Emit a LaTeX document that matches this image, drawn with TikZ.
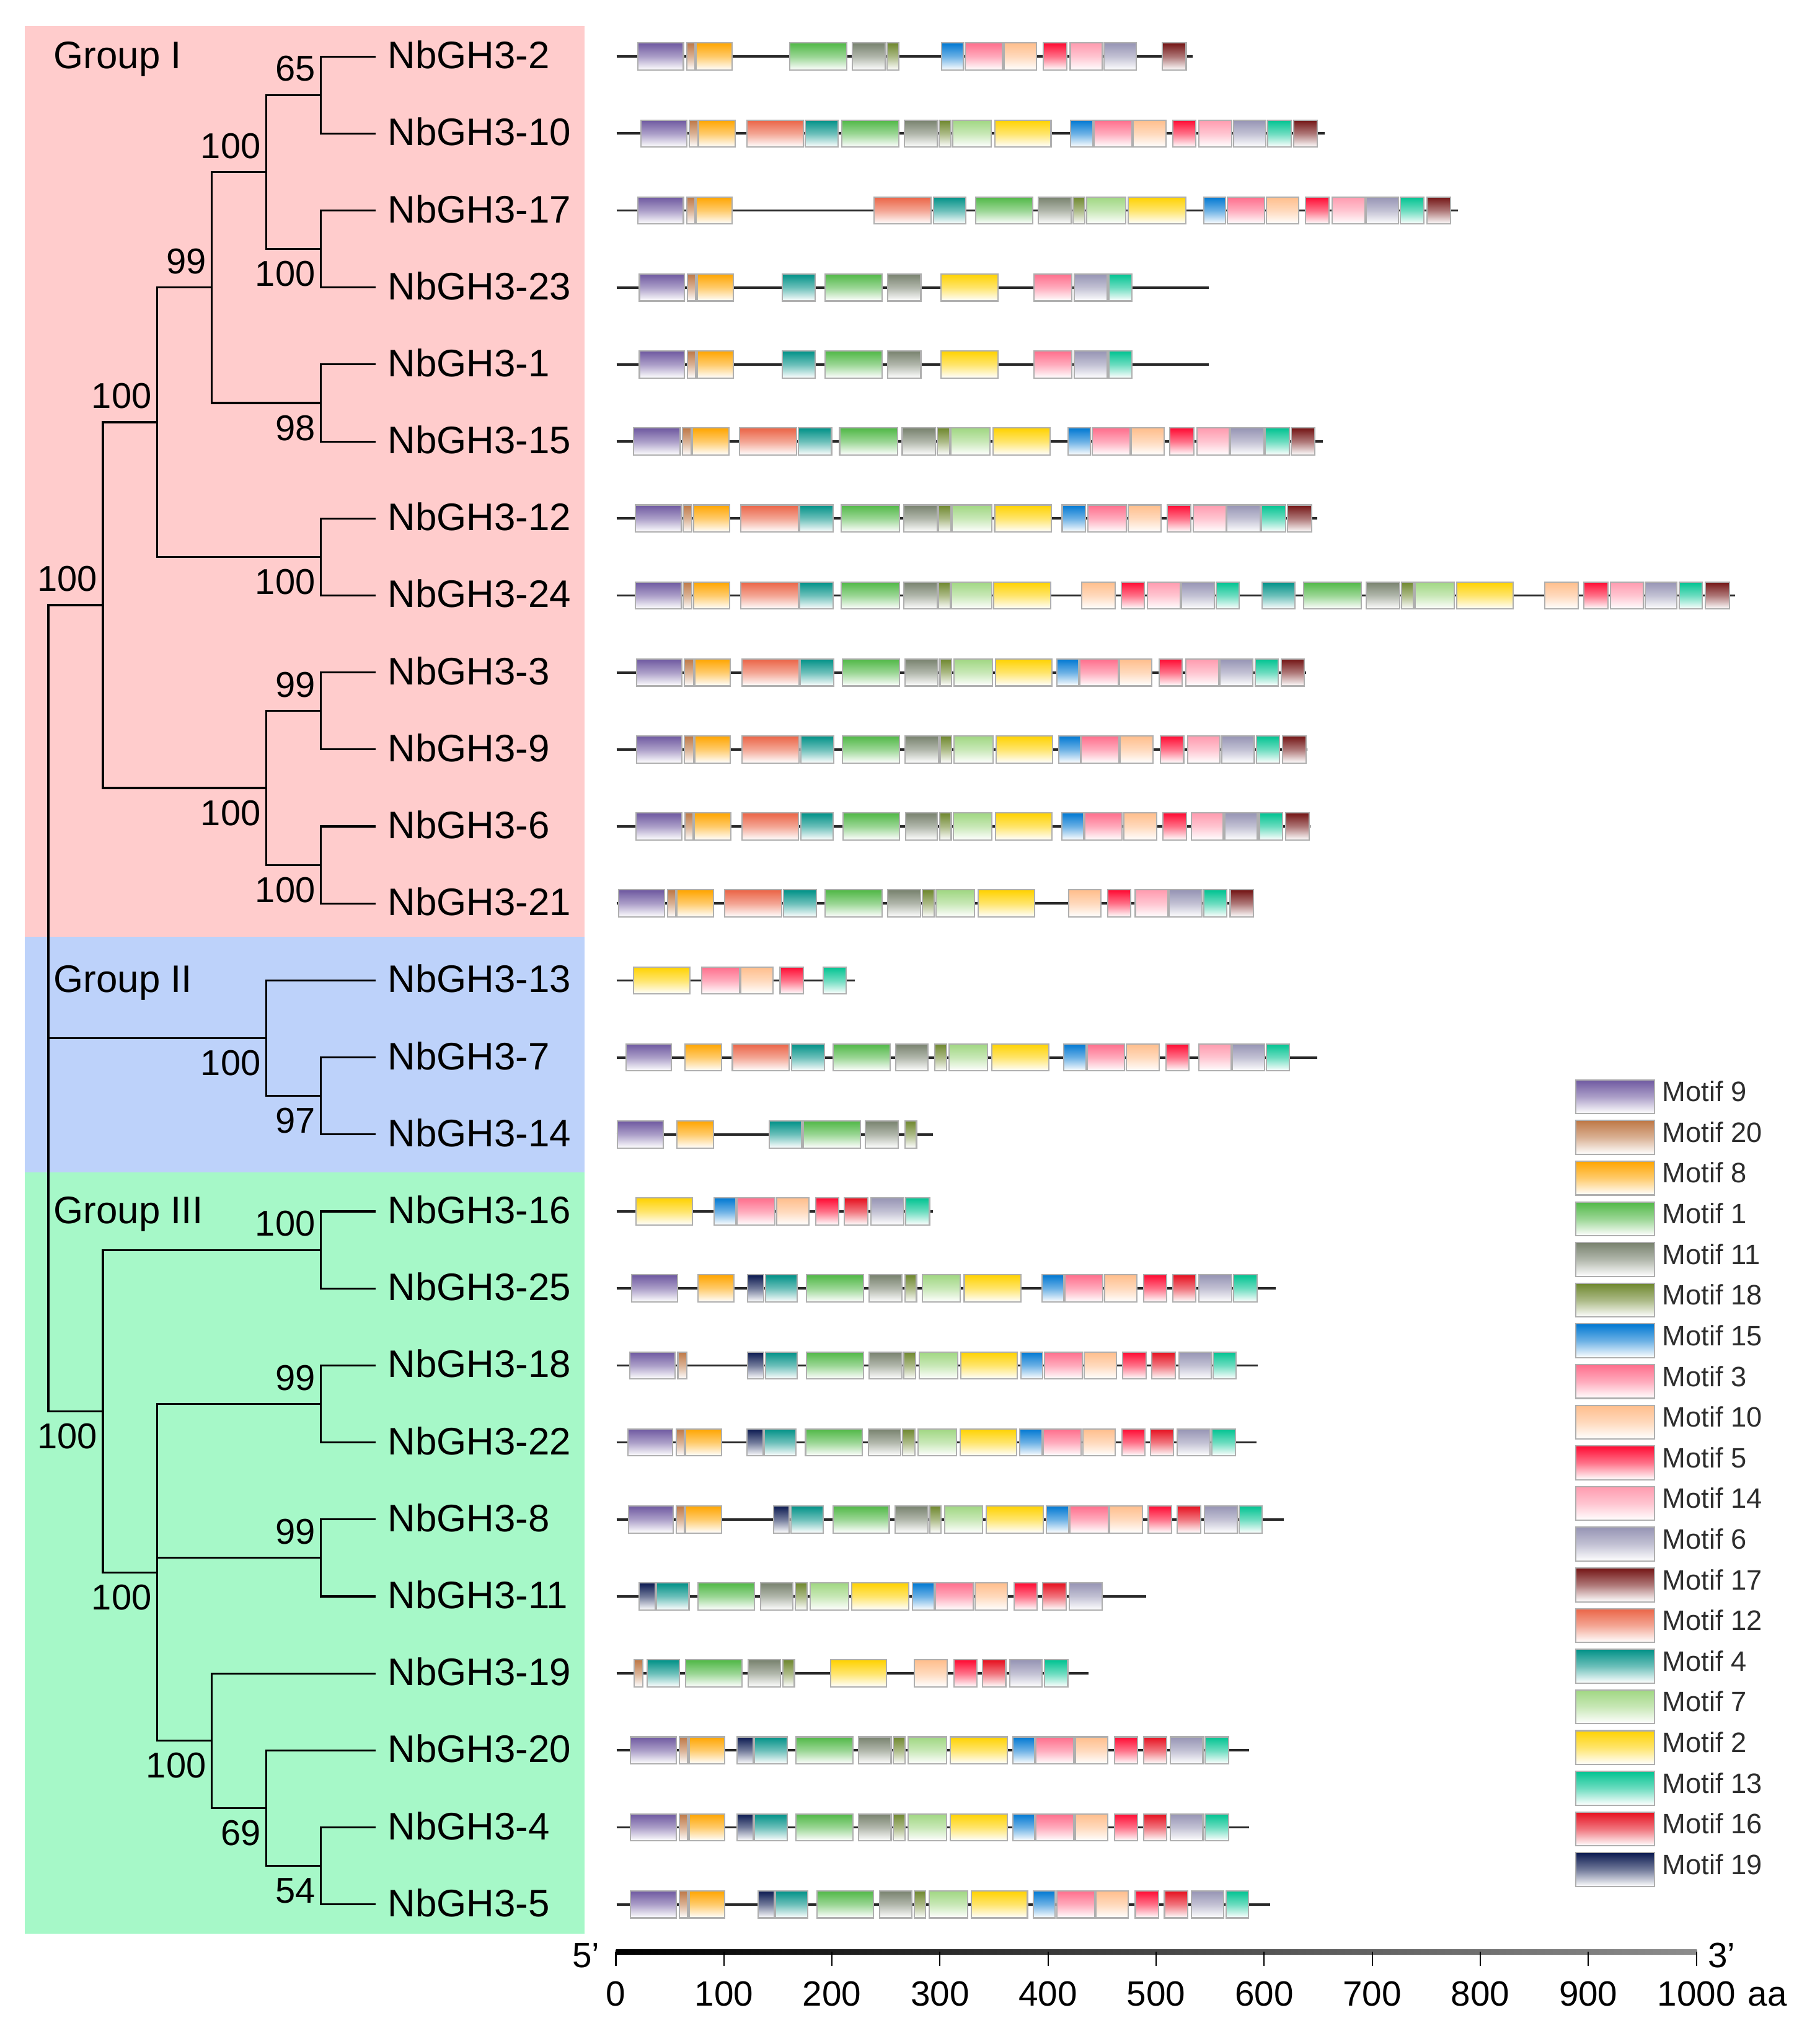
\documentclass[tikz,border=0pt]{standalone}
\usepackage{fontspec}
\setmainfont{Liberation Sans}
\usetikzlibrary{calc}
\definecolor{bgpink}{RGB}{255,204,204}
\definecolor{bgblue}{RGB}{189,210,250}
\definecolor{bggreen}{RGB}{166,248,200}
\definecolor{c9}{RGB}{110,88,160}
\definecolor{c20}{RGB}{190,120,70}
\definecolor{c8}{RGB}{255,165,0}
\definecolor{c1}{RGB}{80,184,70}
\definecolor{c11}{RGB}{120,130,110}
\definecolor{c18}{RGB}{110,135,45}
\definecolor{c15}{RGB}{0,120,210}
\definecolor{c3}{RGB}{255,110,140}
\definecolor{c10}{RGB}{255,190,140}
\definecolor{c5}{RGB}{255,10,50}
\definecolor{c14}{RGB}{255,155,175}
\definecolor{c6}{RGB}{150,148,180}
\definecolor{c17}{RGB}{115,20,20}
\definecolor{c12}{RGB}{235,100,70}
\definecolor{c4}{RGB}{0,145,135}
\definecolor{c7}{RGB}{160,215,130}
\definecolor{c2}{RGB}{255,210,0}
\definecolor{c13}{RGB}{0,195,145}
\definecolor{c16}{RGB}{230,15,30}
\definecolor{c19}{RGB}{10,25,80}
\definecolor{boxgray}{RGB}{175,175,175}
\definecolor{linegray}{RGB}{40,40,40}
\definecolor{legtextc}{RGB}{45,45,45}
\tikzset{
 mot/.style={draw=boxgray, line width=0.5pt, top color=#1, bottom color=white, middle color=#1!58!white},
 gline/.style={draw=linegray, line width=0.9pt},
 branch/.style={draw=black, line width=0.75pt},
 leaf/.style={inner sep=0pt, anchor=base west, font=\fontsize{14.75pt}{17pt}\selectfont},
 bsa/.style={inner sep=0pt, anchor=south east, font=\fontsize{13.8pt}{16pt}\selectfont},
 bsb/.style={inner sep=0pt, anchor=north east, font=\fontsize{13.8pt}{16pt}\selectfont},
 legtext/.style={inner sep=0pt, anchor=base west, text=legtextc, font=\fontsize{10.8pt}{12pt}\selectfont},
 axnum/.style={inner sep=0pt, anchor=base, font=\fontsize{13.5pt}{16pt}\selectfont},
}
\newcommand\generow[3]{%
 \pgfmathsetmacro\ry{43.5+59.25*#1}%
 \draw[gline] (474.5,\ry) -- (#2,\ry);%
 \foreach \a/\b/\m in {#3} {\path[mot=c\m] (\a,\ry-10.4) rectangle (\b,\ry+10.4);}%
}
\begin{document}
\begin{tikzpicture}[x=0.5pt,y=-0.5pt]
\useasboundingbox (0,0) rectangle (1400.3,1566.8);
\fill[white] (0,0) rectangle (1400.3,1566.8);
% group backgrounds
\fill[bgpink] (18.9,20) rectangle (450,721);
\fill[bgblue] (18.9,721) rectangle (450,902);
\fill[bggreen] (18.9,902) rectangle (450,1488);
% leaves
\foreach \n [count=\i from 0] in {2,10,17,23,1,15,12,24,3,9,6,21,13,7,14,16,25,18,22,8,11,19,20,4,5} {
  \pgfmathsetmacro\yy{43.5+59.25*\i}
  \coordinate (l\i) at (289,\yy);
  \node[leaf] (t\i) at (298,\yy+9.3) {NbGH3-\n};
}
% internal nodes
\coordinate (A) at (247,73.125);
\coordinate (B) at (247,191.625);
\coordinate (C) at (205,132.375);
\coordinate (D) at (247,310.125);
\coordinate (E) at (163,221.25);
\coordinate (F) at (247,428.625);
\coordinate (G) at (121,324.94);
\coordinate (H) at (247,547.125);
\coordinate (I) at (247,665.625);
\coordinate (J) at (205,606.375);
\coordinate (K) at (79.2,465.66);
\coordinate (L) at (247,843.375);
\coordinate (M) at (205,798.94);
\coordinate (N) at (247,961.875);
\coordinate (O) at (247,1080.375);
\coordinate (P) at (247,1198.875);
\coordinate (Q) at (247,1435.875);
\coordinate (T) at (205,1391.44);
\coordinate (S) at (163,1339.59);
\coordinate (R) at (121,1209.98);
\coordinate (U) at (79.2,1085.93);
\coordinate (Root) at (37.2,775.8);
\draw[branch] (A) |- (l0) (A) |- (l1) (B) |- (l2) (B) |- (l3)
  (C) |- (A) (C) |- (B) (D) |- (l4) (D) |- (l5) (E) |- (C) (E) |- (D)
  (F) |- (l6) (F) |- (l7) (G) |- (E) (G) |- (F)
  (H) |- (l8) (H) |- (l9) (I) |- (l10) (I) |- (l11) (J) |- (H) (J) |- (I)
  (K) |- (G) (K) |- (J)
  (L) |- (l13) (L) |- (l14) (M) |- (l12) (M) |- (L)
  (N) |- (l15) (N) |- (l16) (O) |- (l17) (O) |- (l18) (P) |- (l19) (P) |- (l20)
  (Q) |- (l23) (Q) |- (l24) (T) |- (l22) (T) |- (Q) (S) |- (l21) (S) |- (T)
  (R) |- (O) (R) |- (P) (R) |- (S) (U) |- (N) (U) |- (R)
  (Root) |- (K) (Root) |- (M) (Root) |- (U);
% bootstrap values
\node[bsa] (bA) at ($(A)+(-4,-10)$) {65};
\node[bsb] (bB) at ($(B)+(-4,9)$) {100};
\node[bsa] (bC) at ($(C)+(-4,-10)$) {100};
\node[bsb] (bD) at ($(D)+(-4,9)$) {98};
\node[bsa] (bE) at ($(E)+(-4,-10)$) {99};
\node[bsb] (bF) at ($(F)+(-4,9)$) {100};
\node[bsa] (bG) at ($(G)+(-4,-10)$) {100};
\node[bsa] (bH) at ($(H)+(-4,-10)$) {99};
\node[bsb] (bI) at ($(I)+(-4,9)$) {100};
\node[bsb] (bJ) at ($(J)+(-4,9)$) {100};
\node[bsa] (bK) at ($(K)+(-4,-10)$) {100};
\node[bsb] (bL) at ($(L)+(-4,9)$) {97};
\node[bsb] (bM) at ($(M)+(-4,9)$) {100};
\node[bsa] (bN) at ($(N)+(-4,-10)$) {100};
\node[bsa] (bO) at ($(O)+(-4,-10)$) {99};
\node[bsa] (bP) at ($(P)+(-4,-10)$) {99};
\node[bsb] (bQ) at ($(Q)+(-4,9)$) {54};
\node[bsb] (bT) at ($(T)+(-4,9)$) {69};
\node[bsb] (bS) at ($(S)+(-4,9)$) {100};
\node[bsb] (bR) at ($(R)+(-4,9)$) {100};
\node[bsb] (bU) at ($(U)+(-4,9)$) {100};
% group labels
\node[leaf] (g1) at (41,52.8) {Group I};
\node[leaf] (g2) at (41,763.8) {Group II};
\node[leaf] (g3) at (41,941.5) {Group III};
% motif rows
\generow{0}{918}{490.9/526/9, 528.5/534.8/20, 535.7/563.6/8, 608/651.6/1, 655.8/681.2/11, 682.9/691.7/18, 724.7/741.6/15, 742.9/771.7/3, 773/797.9/10, 803/821.2/5, 823.7/848.2/14, 849.5/874.4/6, 894.7/912.9/17}
\generow{1}{1019.5}{493.4/528.5/9, 530.6/537/20, 537.8/565.7/8, 575/618.2/12, 619.8/645.2/4, 647.8/691.7/1, 696/721.3/11, 722.6/731.9/18, 733.2/762.8/7, 765.7/808.9/2, 824.1/841/15, 841.9/871/3, 872.3/897.3/10, 902.8/920.5/5, 922.6/948/14, 949.3/974.2/6, 975.5/993.7/13, 995.8/1014/17}
\generow{2}{1122}{490.9/526/9, 528.5/534.8/20, 535.7/563.6/8, 672.7/716.7/12, 718.4/743.3/4, 751/795/1, 799.2/824.5/11, 825.8/835.1/18, 836.4/866.4/7, 868.5/912.5/2, 926.5/943.4/15, 944.6/973.4/3, 974.7/999.6/10, 1004.7/1022.9/5, 1025.4/1050.4/14, 1051.6/1076.2/6, 1077.9/1096/13, 1098.1/1116.3/17}
\generow{3}{930.3}{492.1/526.8/9, 529.3/535.3/20, 536.5/564.4/8, 602/627.5/4, 635/679/1, 683.3/708.7/11, 724.3/768.3/2, 795.8/825/3, 826.6/852/6, 853.3/871/13}
\generow{4}{930.3}{492.1/526.8/9, 529.3/535.3/20, 536.5/564.4/8, 602/627.5/4, 635/679/1, 683.3/708.7/11, 724.3/768.3/2, 795.8/825/3, 826.6/852/6, 853.3/871/13}
\generow{5}{1018}{487.8/523.6/9, 525.3/532/20, 533.1/561.1/8, 569/613.2/12, 614.3/640/4, 646.2/691/1, 694.4/720.1/11, 721.2/730.8/18, 731.9/762.1/7, 764.4/808/2, 822/839.4/15, 840.5/869.6/3, 870.7/896/10, 900.4/918.9/5, 921.1/946.3/14, 946.9/972.6/6, 973.7/992.2/13, 993.9/1011.8/17}
\generow{6}{1014}{488.9/524.2/9, 525.8/532.5/20, 533.7/561.7/8, 570/614.3/12, 615.4/641.2/4, 647.3/692.1/1, 695.5/721.2/11, 722.4/731.9/18, 733/763.2/7, 765.5/809.1/2, 817.5/835.5/15, 837.1/866.8/3, 868.5/893.7/10, 898.2/916.6/5, 918.3/943.5/14, 944.1/969.8/6, 970.9/989.4/13, 991.1/1009.6/17}
\generow{7}{1335.5}{488.9/524.2/9, 525.8/532.5/20, 533.7/561.7/8, 570/614.3/12, 615.4/641.2/4, 647.3/692.1/1, 695.5/721.2/11, 722.4/731.3/18, 732.4/763.2/7, 764.9/808.6/2, 832.7/858.4/10, 862.9/880.8/5, 883/908.2/14, 909.4/934.6/6, 936.2/953.6/13, 971.5/996.7/4, 1003.4/1047.7/1, 1051.6/1077.3/11, 1078.5/1088/18, 1089.1/1119.3/7, 1121/1164.7/2, 1188.8/1214.5/10, 1219/1237.5/5, 1239.7/1264.9/14, 1266/1290.7/6, 1292.3/1310.3/13, 1312.5/1331/17}
\generow{8}{1005}{490/524.7/9, 526.9/533.7/20, 534.8/562.2/8, 571.2/614.9/12, 616/641.7/4, 648.5/692.1/1, 696.6/721.8/11, 723.5/732.4/18, 734.1/763.8/7, 766/809.7/2, 813.6/830.4/15, 831/860.7/3, 861.8/886.4/10, 892/910/5, 912.7/937.9/14, 939/964.2/6, 965.9/983.8/13, 986.1/1004/17}
\generow{9}{1006.2}{490/524.7/9, 526.9/533.7/20, 534.8/562.2/8, 571.2/614.9/12, 616.6/641.7/4, 648.5/692.1/1, 696.6/722.4/11, 723.5/732.4/18, 734.1/764.4/7, 766.6/810.3/2, 814.7/831.5/15, 832.1/861.2/3, 862.3/887.5/10, 893.1/911/5, 913.9/939/14, 940.2/965.4/6, 967/984.9/13, 987.2/1005.1/17}
\generow{10}{1008.7}{489.7/524.6/9, 527.4/533.5/20, 534.5/562.3/8, 571.2/614.6/12, 616.4/641.3/4, 648.8/692.2/1, 696.9/721.4/11, 723.2/732.1/18, 733.9/763.4/7, 766.3/809.7/2, 817.2/833.9/15, 835/863.5/3, 864.9/890.2/10, 895.2/913.3/5, 916.9/941.4/14, 942.5/967.8/6, 969.2/987/13, 989.5/1007.7/17}
\generow{11}{965.3}{476.1/511.4/9, 513.9/519.9/20, 521/549.1/8, 557.7/601.5/12, 603.2/628.2/4, 634.9/679/1, 683/708.3/11, 709.7/719/18, 720.4/749.9/7, 752.8/796.2/2, 822.5/847.5/10, 852.4/870.2/5, 873.8/899.1/14, 899.8/925.1/6, 926.5/944.3/13, 946.8/964.6/17}
\generow{12}{657.7}{487.5/531/2, 540.2/569/3, 570.1/595.1/10, 600.4/618.2/5, 633.5/651.3/13}
\generow{13}{1014}{481.8/516.7/9, 527.4/555.2/8, 563.7/607.5/12, 609.3/634.6/4, 641.3/685.1/1, 689.4/714.3/11, 719.6/728.5/18, 730.3/760.2/7, 763.4/807.2/2, 818.6/835.7/15, 836.8/865.6/3, 867/892/10, 897.3/915.1/5, 922.6/947.5/14, 948.2/973.1/6, 974.5/992.3/13}
\generow{14}{717.9}{475.4/510.7/9, 521/549.1/8, 592.2/617.1/4, 618.2/662/1, 666.2/691.2/11, 696.5/705.4/18}
\generow{15}{717.9}{489.7/533.1/2, 549.5/566.2/15, 567.3/596.5/3, 597.9/622.8/10, 627.8/645.6/5, 649.9/668/16, 670.5/695.4/6, 697.2/715.4/13}
\generow{16}{982}{486.1/521.4/9, 537/564.8/8, 575.5/587.9/19, 589/613.6/4, 620.7/664.5/1, 669.1/694/11, 696.5/705.4/18, 709.7/739.2/7, 742.1/785.9/2, 801.9/818.6/15, 819.7/848.9/3, 850/875.2/10, 880.2/898/5, 902.6/920.4/16, 922.9/947.8/6, 949.6/967.4/13}
\generow{17}{967.8}{484.7/519.6/9, 521.7/528.5/20, 575.5/587.9/19, 589/613.6/4, 620.7/664.5/1, 669.1/694/11, 695.8/704.7/18, 707.5/737.1/7, 739.6/783/2, 785.9/802.6/15, 803.7/832.9/3, 834.3/859.2/10, 864.2/882/5, 886.6/904.4/16, 907.3/932.2/6, 933.6/951.4/13}
\generow{18}{967}{483.3/517.8/9, 520.3/526.7/20, 527.8/555.2/8, 574.8/587.2/19, 588.3/612.8/4, 620/663.8/1, 668.4/693.3/11, 694.7/704/18, 706.5/736/7, 738.9/782.3/2, 784.8/801.9/15, 803/832.1/3, 833.6/858.1/10, 863.5/881.3/5, 885.5/903.3/16, 906.2/931.1/6, 932.9/950.7/13}
\generow{19}{988.1}{483.6/518.2/9, 520.6/526.7/20, 527.8/555.5/8, 595.4/607.5/19, 608.9/633.5/4, 641/684.4/1, 689/714/11, 715.7/724.3/18, 727.1/756.3/7, 759.2/803/2, 805.4/822.5/15, 823.6/853.2/3, 854.2/879.1/10, 883.8/901.9/5, 906.2/924.3/16, 926.8/952.1/6, 953.9/971.3/13}
\generow{20}{882.3}{491.8/504.3/19, 505.3/530.3/4, 537/580.8/1, 585.4/610.4/11, 612.1/621/18, 623.5/653.1/7, 655.6/699.4/2, 702.2/718.9/15, 720/749.2/3, 750.3/775.2/10, 780.5/798.3/5, 802.6/820.4/16, 823.2/848.2/6}
\generow{21}{837.8}{488.2/494.7/20, 498.2/523.1/4, 527.8/571.2/1, 575.8/600.7/11, 602.5/611.4/18, 639.2/682.3/2, 703.6/728.9/10, 734.2/752/5, 756.3/774.1/16, 777/801.9/6, 804/821.8/13}
\generow{22}{961.4}{485.4/520.3/9, 522.8/529.2/20, 530.3/557.7/8, 567.3/579.7/19, 580.8/605.7/4, 612.8/656.6/1, 660.9/685.8/11, 687.6/696.5/18, 699/728.5/7, 731.4/775.2/2, 779.5/796.2/15, 797.3/826.4/3, 827.5/852.4/10, 857.8/875.6/5, 880.2/898/16, 900.9/925.8/6, 927.6/945.4/13}
\generow{23}{961.4}{485.4/520.3/9, 522.8/529.2/20, 530.3/557.7/8, 567.3/579.7/19, 580.8/605.7/4, 612.8/656.6/1, 660.9/685.8/11, 687.6/696.5/18, 699/728.5/7, 731.4/775.2/2, 779.5/796.2/15, 797.3/826.4/3, 827.5/852.4/10, 857.8/875.6/5, 880.2/898/16, 900.9/925.8/6, 927.6/945.4/13}
\generow{24}{977.4}{485.4/520.3/9, 522.8/529.2/20, 530.3/557.7/8, 583.3/595.8/19, 596.8/621.7/4, 628.9/672.3/1, 676.9/701.8/11, 703.6/712.5/18, 715/744.6/7, 747.4/790.8/2, 795.5/812.2/15, 813.3/842.5/3, 843.5/868.5/10, 873.8/891.6/5, 896.2/914/16, 916.9/941.8/6, 943.6/961/13}
% legend
\foreach \m [count=\i from 0] in {9,20,8,1,11,18,15,3,10,5,14,6,17,12,4,7,2,13,16,19} {
  \path[mot=c\m] (1212.6,831+31.3*\i) rectangle (1273.2,857+31.3*\i);
  \node[legtext] (lg\i) at (1279,847.7+31.3*\i) {Motif \m};
}
% axis
\shade[left color=black, right color=black!45] (474,1500) rectangle (1306,1504);
\foreach \k in {0,...,10} {
  \pgfmathsetmacro\xx{474+83.16*\k}
  \pgfmathtruncatemacro\vv{100*\k}
  \draw[line width=0.5pt] (\xx,1502) -- (\xx,1513);
  \node[axnum] (ax\k) at (\xx,1543.5) {\vv};
}
\node[axnum, anchor=base west] (aa) at (1345,1543.5) {aa};
\node[axnum, anchor=base east] (p5) at (462,1514) {5’};
\node[axnum, anchor=base west] (p3) at (1314,1514) {3’};
\end{tikzpicture}
\end{document}
